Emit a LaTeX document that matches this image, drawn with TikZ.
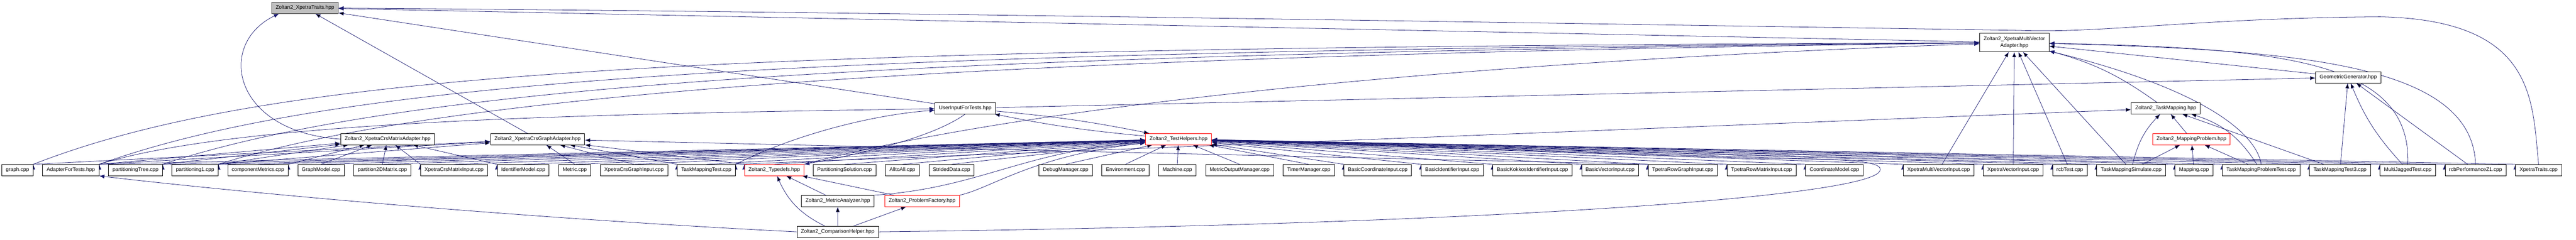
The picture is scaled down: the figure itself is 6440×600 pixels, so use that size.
\documentclass[tikz,border=0pt]{standalone}
\usepackage{fontspec}
\setmainfont{Liberation Sans}
\usepackage{tikz}
\usetikzlibrary{arrows.meta, positioning, backgrounds}

\definecolor{edgeblue}{HTML}{191970}
\definecolor{rootfill}{HTML}{BFBFBF}
\definecolor{rootline}{HTML}{404040}

\tikzset{
  file/.style={draw=black, fill=white, line width=1.1pt, minimum height=28pt,
    inner xsep=10pt, inner ysep=0pt, font=\fontsize{13}{17}\selectfont},
  trunc/.style={file, draw=red},
  root/.style={file, draw=rootline, fill=rootfill},
  inc/.style={draw=edgeblue, line width=1pt, -{Latex[length=13pt,width=10pt]}},
}

\begin{document}
\begin{tikzpicture}[x=1pt, y=-1pt]
    \useasboundingbox (0,0) rectangle (6440,600);

    % upper ranks
    \node[root] (xtraits) at (762.5,19.7) {Zoltan2\_XpetraTraits.hpp};
    \node[file, align=center, minimum height=46pt] (xmva) at (5035.8,106.4) {Zoltan2\_XpetraMultiVector\\Adapter.hpp};
    \node[file] (geogen) at (5870.5,193.3) {GeometricGenerator.hpp};
    \node[file] (uift) at (2413,270.8) {UserInputForTests.hpp};
    \node[file] (tmap) at (5414.5,270.8) {Zoltan2\_TaskMapping.hpp};
    \node[file] (cma) at (969,347.9) {Zoltan2\_XpetraCrsMatrixAdapter.hpp};
    \node[file] (cga) at (1344,347.9) {Zoltan2\_XpetraCrsGraphAdapter.hpp};
    \node[trunc] (thelp) at (2946.4,347.9) {Zoltan2\_TestHelpers.hpp};
    \node[trunc] (mprob) at (5478.5,347.9) {Zoltan2\_MappingProblem.hpp};

    % bottom row
    \node[file] (graphcpp) at (43.7,425.4) {graph.cpp};
    \node[file, right=23pt of graphcpp] (aft) {AdapterForTests.hpp};
    \node[file, right=23pt of aft] (ptree) {partitioningTree.cpp};
    \node[file, right=23pt of ptree] (part1) {partitioning1.cpp};
    \node[file, right=23pt of part1] (cmetrics) {componentMetrics.cpp};
    \node[file, right=23pt of cmetrics] (gmodel) {GraphModel.cpp};
    \node[file, right=23pt of gmodel] (p2d) {partition2DMatrix.cpp};
    \node[file, right=23pt of p2d] (xcmi) {XpetraCrsMatrixInput.cpp};
    \node[file, right=23pt of xcmi] (imodel) {IdentifierModel.cpp};
    \node[file, right=23pt of imodel] (metric) {Metric.cpp};
    \node[file, right=23pt of metric] (xcgi) {XpetraCrsGraphInput.cpp};
    \node[file, right=23pt of xcgi] (tmtest) {TaskMappingTest.cpp};
    \node[trunc, right=22pt of tmtest] (typedefs) {Zoltan2\_Typedefs.hpp};
    \node[file, right=22pt of typedefs] (psol) {PartitioningSolution.cpp};
    \node[file, right=23pt of psol] (alltoall) {AlltoAll.cpp};
    \node[file, right=23pt of alltoall] (strided) {StridedData.cpp};
    \node[file] (debugm) at (2664,425.4) {DebugManager.cpp};
    \node[file, right=23pt of debugm] (envcpp) {Environment.cpp};
    \node[file, right=23pt of envcpp] (machine) {Machine.cpp};
    \node[file, right=23pt of machine] (mom) {MetricOutputManager.cpp};
    \node[file, right=23pt of mom] (timer) {TimerManager.cpp};
    \node[file, right=23pt of timer] (bci) {BasicCoordinateInput.cpp};
    \node[file, right=23pt of bci] (bii) {BasicIdentifierInput.cpp};
    \node[file, right=23pt of bii] (bkii) {BasicKokkosIdentifierInput.cpp};
    \node[file, right=23pt of bkii] (bvi) {BasicVectorInput.cpp};
    \node[file, right=23pt of bvi] (trgi) {TpetraRowGraphInput.cpp};
    \node[file, right=23pt of trgi] (trmi) {TpetraRowMatrixInput.cpp};
    \node[file, right=23pt of trmi] (cmodel) {CoordinateModel.cpp};
    \node[file] (xmvi) at (4846.4,425.4) {XpetraMultiVectorInput.cpp};
    \node[file, right=23pt of xmvi] (xvi) {XpetraVectorInput.cpp};
    \node[file, right=23pt of xvi] (rcbtest) {rcbTest.cpp};
    \node[file, right=23pt of rcbtest] (tmsim) {TaskMappingSimulate.cpp};
    \node[file, right=23pt of tmsim] (mapping) {Mapping.cpp};
    \node[file, right=23pt of mapping] (tmptest) {TaskMappingProblemTest.cpp};
    \node[file, right=23pt of tmptest] (tmtest3) {TaskMappingTest3.cpp};
    \node[file, right=23pt of tmtest3] (mjtest) {MultiJaggedTest.cpp};
    \node[file, right=23pt of mjtest] (rcbperf) {rcbPerformanceZ1.cpp};
    \node[file, right=23pt of rcbperf] (xtcpp) {XpetraTraits.cpp};

    % lower ranks
    \node[file] (manalyzer) at (2094.4,502.7) {Zoltan2\_MetricAnalyzer.hpp};
    \node[trunc] (pfactory) at (2305.2,502.7) {Zoltan2\_ProblemFactory.hpp};
    \node[file] (chelper) at (2094.2,579.8) {Zoltan2\_ComparisonHelper.hpp};

    \begin{scope}[on background layer]
    % into the root
    \draw[inc] (cma.west) .. controls (580,330) and (540,110) .. ([xshift=-65pt]xtraits.south);
    \path[inc] (cga) edge (xtraits);
    \path[inc] (xmva) edge (xtraits);
    \path[inc] (uift) edge (xtraits);
    \draw[inc] (xtcpp.north) .. controls (6330,250) and (6340,50) .. (5950,42)
        .. controls (5500,45) and (5250,84) .. (5050,76)
        .. controls (3500,52) and (2000,28) .. (xtraits);

    % into XpetraMultiVectorAdapter
    \draw[inc] (graphcpp.north east) .. controls (700,170) and (1800,120) .. (xmva);
    \draw[inc] (aft.north east) .. controls (850,195) and (2000,128) .. (xmva);
    \draw[inc] (ptree.north east) .. controls (1000,215) and (2200,134) .. (xmva);
    \draw[inc] (part1.north east) .. controls (1100,235) and (2400,140) .. (xmva);
    \draw[inc] (typedefs.north east) .. controls (2500,280) and (3500,160) .. (xmva);
    \path[inc] (xmvi) edge (xmva);
    \path[inc] (xvi) edge (xmva);
    \path[inc] (rcbtest) edge (xmva);
    \path[inc] (tmsim) edge (xmva);
    \path[inc] (tmap) edge[bend right=10] (xmva);
    \path[inc] (geogen) edge (xmva);
    \draw[inc] (tmptest.north) .. controls (5640,330) and (5500,220) .. (xmva);
    \draw[inc] (mjtest.north) .. controls (6030,150) and (5700,120) .. (xmva);
    \draw[inc] (rcbperf.north) .. controls (6180,160) and (5750,125) .. (xmva);

    % into GeometricGenerator
    \path[inc] (uift) edge (geogen);
    \path[inc] (tmtest3) edge (geogen);
    \path[inc] (mjtest) edge[bend left=10] (geogen);
    \path[inc] (rcbperf) edge (geogen);

    % into TaskMapping and MappingProblem
    \path[inc] (tmtest.north east) edge (tmap);
    \path[inc] (tmsim) edge[bend left=15] (tmap);
    \path[inc] (mprob) edge (tmap);
    \path[inc] (tmptest) edge[bend right=20] (tmap);
    \path[inc] (tmtest3) edge (tmap);
    \path[inc] (tmsim) edge (mprob);
    \path[inc] (mapping) edge (mprob);
    \path[inc] (tmptest) edge (mprob);

    % into UserInputForTests
    \draw[inc] (aft.north east) .. controls (600,300) and (1500,285) .. (uift);
    \draw[inc] (tmtest.north east) .. controls (2000,330) and (2200,285) .. (uift);
    \path[inc] (thelp) edge[bend left=3] (uift);
    \path[inc] (uift) edge[bend left=3] (thelp);

    % into XpetraCrsMatrixAdapter
    \path[inc] (aft.north east) edge (cma);
    \path[inc] (ptree.north east) edge (cma);
    \path[inc] (part1.north east) edge (cma);
    \path[inc] (cmetrics.north east) edge (cma);
    \path[inc] (gmodel.north) edge (cma);
    \path[inc] (p2d.north) edge (cma);
    \path[inc] (xcmi.north west) edge (cma);
    \path[inc] (imodel.north west) edge (cma);

    % into XpetraCrsGraphAdapter
    \path[inc] (graphcpp.north east) edge (cga);
    \path[inc] (aft.north east) edge (cga);
    \path[inc] (part1.north east) edge (cga);
    \path[inc] (metric.north) edge (cga);
    \path[inc] (xcgi.north) edge (cga);
    \path[inc] (tmtest.north west) edge (cga);
    \path[inc] (typedefs.north west) edge (cga);
    \path[inc] (trgi.north west) edge (cga);

    % into TestHelpers, from the left
    \path[inc] (aft.north east) edge (thelp);
    \path[inc] (ptree.north east) edge (thelp);
    \path[inc] (part1.north east) edge (thelp);
    \path[inc] (cmetrics.north) edge (thelp);
    \path[inc] (gmodel.north) edge (thelp);
    \path[inc] (p2d.north) edge (thelp);
    \path[inc] (xcmi.north) edge (thelp);
    \path[inc] (imodel.north) edge (thelp);
    \path[inc] (metric.north) edge (thelp);
    \path[inc] (xcgi.north) edge (thelp);
    \path[inc] (tmtest.north) edge (thelp);
    \path[inc] (typedefs.north) edge (thelp);
    \path[inc] (psol.north) edge (thelp);
    \path[inc] (alltoall.north) edge (thelp);
    \path[inc] (strided.north) edge (thelp);
    \draw[inc] (manalyzer.north east) .. controls (2450,470) and (2550,380) .. (thelp);
    \draw[inc] (pfactory.north east) .. controls (2480,470) and (2580,390) .. (thelp);

    % into TestHelpers, from below
    \path[inc] (debugm.north) edge (thelp);
    \path[inc] (envcpp.north) edge (thelp);
    \path[inc] (machine.north) edge (thelp);
    \path[inc] (mom.north) edge (thelp);
    \path[inc] (timer.north) edge (thelp);

    % into TestHelpers, from the right
    \path[inc] (bci.north west) edge (thelp);
    \path[inc] (bii.north west) edge (thelp);
    \path[inc] (bkii.north west) edge (thelp);
    \path[inc] (bvi.north west) edge (thelp);
    \path[inc] (trgi.north west) edge (thelp);
    \path[inc] (trmi.north west) edge (thelp);
    \path[inc] (cmodel.north west) edge (thelp);
    \path[inc] (xmvi.north west) edge (thelp);
    \path[inc] (xvi.north west) edge (thelp);
    \path[inc] (rcbtest.north west) edge (thelp);
    \path[inc] (tmsim.north west) edge (thelp);
    \path[inc] (mapping.north west) edge (thelp);
    \path[inc] (tmptest.north west) edge (thelp);
    \path[inc] (tmtest3.north west) edge (thelp);
    \path[inc] (mjtest.north west) edge (thelp);
    \path[inc] (rcbperf.north west) edge (thelp);
    \path[inc] (xtcpp.north west) edge (thelp);
    \draw[inc] (chelper.east) .. controls (3800,560) and (4650,490) .. (4698,430)
        .. controls (4720,400) and (4600,398) .. (4400,396) -- (thelp);

    % lower helpers
    \draw[inc] (uift.south) .. controls (2330,345) and (2150,385) .. (typedefs.north east);
    \path[inc] (manalyzer) edge (typedefs);
    \path[inc] (pfactory) edge (typedefs);
    \path[inc] (chelper) edge[bend left=20] (typedefs);
    \path[inc] (chelper) edge (manalyzer);
    \path[inc] (chelper) edge (pfactory);
    \draw[inc] (chelper.west) .. controls (1200,540) and (500,470) .. (aft.south east);
    \end{scope}
\end{tikzpicture}
\end{document}
